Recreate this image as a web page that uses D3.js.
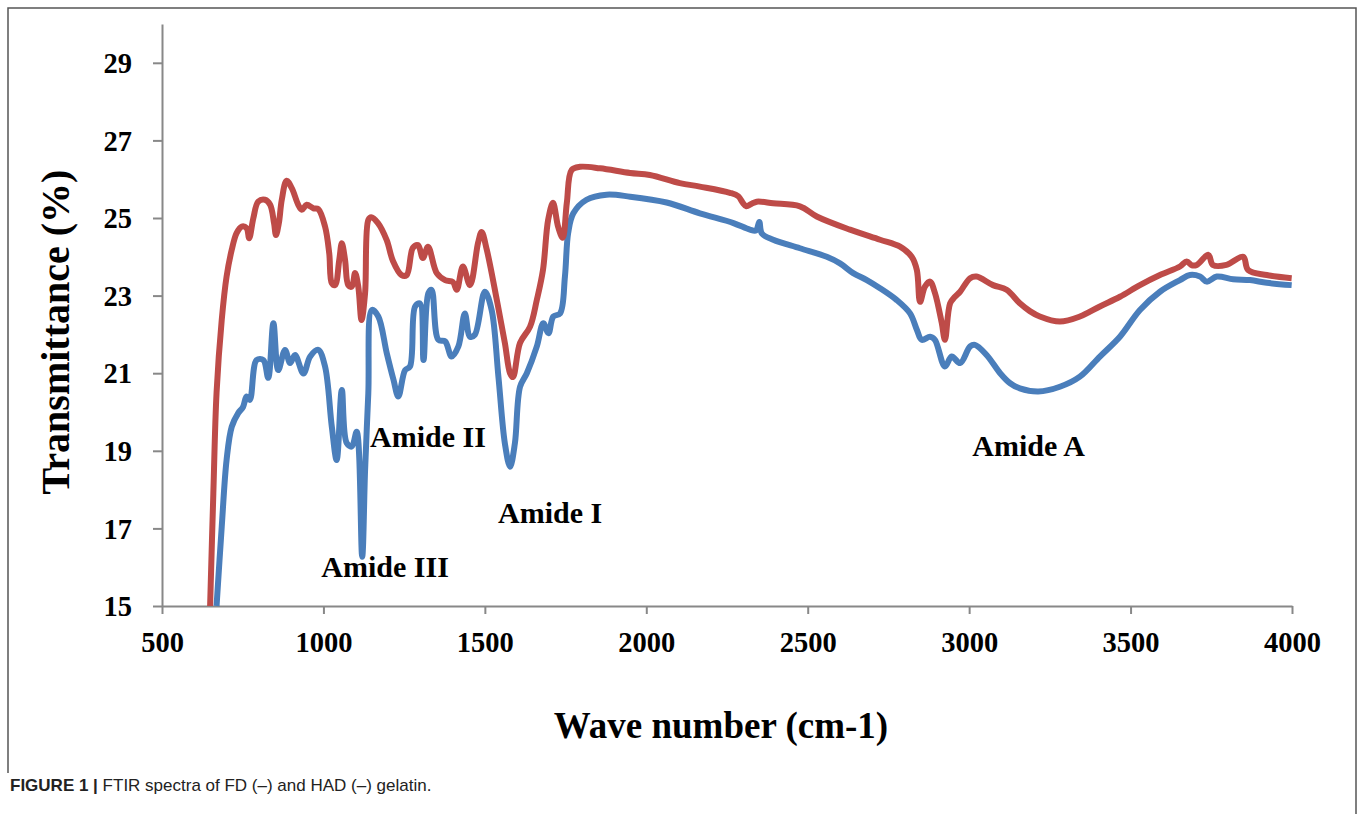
<!DOCTYPE html>
<html>
<head>
<meta charset="utf-8">
<script src="https://cdn.jsdelivr.net/npm/d3@7"></script>
<style>
  html, body { margin: 0; padding: 0; background: #fff; }
  svg { display: block; }
</style>
</head>
<body>
<svg id="chart" width="1358" height="814"></svg>
<script>
// ---- data ----
const xTicks = [500, 1000, 1500, 2000, 2500, 3000, 3500, 4000];
const yTicks = [15, 17, 19, 21, 23, 25, 27, 29];

const fdWave = [649, 659, 669, 685, 700, 716, 731, 747, 762, 770, 783, 798, 819, 835, 847, 853, 862, 871, 886, 902, 922, 933, 948, 969, 984, 1005, 1018, 1026, 1036, 1049, 1057, 1067, 1077, 1088, 1098, 1108, 1118, 1129, 1139, 1148, 1169, 1196, 1215, 1242, 1258, 1277, 1293, 1308, 1324, 1351, 1377, 1401, 1413, 1432, 1454, 1479, 1490, 1506, 1537, 1562, 1578, 1587, 1609, 1640, 1661, 1680, 1696, 1711, 1727, 1741, 1754, 1769, 1795, 1857, 1950, 2011, 2104, 2166, 2259, 2285, 2299, 2310, 2325, 2342, 2393, 2476, 2528, 2631, 2724, 2786, 2822, 2838, 2848, 2863, 2879, 2894, 2915, 2925, 2941, 2956, 2972, 3003, 3023, 3074, 3116, 3157, 3188, 3219, 3281, 3343, 3405, 3467, 3529, 3591, 3653, 3674, 3690, 3705, 3741, 3755, 3797, 3849, 3864, 3922, 3999];
const fdT = [15.0, 17.9, 20.5, 22.37, 23.49, 24.18, 24.61, 24.78, 24.74, 24.48, 25.0, 25.42, 25.47, 25.34, 24.87, 24.56, 24.87, 25.47, 25.96, 25.77, 25.34, 25.21, 25.34, 25.25, 25.23, 24.78, 24.09, 23.32, 23.27, 23.92, 24.35, 23.92, 23.27, 23.23, 23.58, 23.23, 22.37, 23.06, 24.95, 25.02, 24.87, 24.43, 23.9, 23.53, 23.53, 24.23, 24.3, 23.97, 24.26, 23.58, 23.4, 23.35, 23.15, 23.75, 23.27, 24.36, 24.64, 24.18, 22.89, 21.78, 21.0, 20.9, 21.78, 22.2, 22.89, 23.66, 24.95, 25.39, 24.77, 24.49, 25.4, 26.24, 26.32, 26.28, 26.16, 26.11, 25.9, 25.81, 25.65, 25.56, 25.39, 25.3, 25.36, 25.42, 25.38, 25.3, 25.04, 24.7, 24.44, 24.26, 24.0, 23.66, 22.84, 23.23, 23.36, 23.07, 22.3, 21.86, 22.8, 22.97, 23.1, 23.45, 23.49, 23.27, 23.15, 22.8, 22.6, 22.46, 22.33, 22.46, 22.72, 22.97, 23.27, 23.53, 23.75, 23.88, 23.78, 23.79, 24.05, 23.79, 23.79, 24.0, 23.66, 23.53, 23.45];

const hadWave = [669, 685, 700, 716, 736, 751, 762, 772, 793, 814, 829, 845, 860, 881, 897, 912, 938, 959, 984, 1005, 1026, 1041, 1057, 1072, 1088, 1103, 1120, 1129, 1139, 1150, 1170, 1196, 1217, 1232, 1253, 1268, 1284, 1299, 1310, 1325, 1335, 1356, 1377, 1397, 1418, 1438, 1454, 1469, 1500, 1521, 1542, 1562, 1578, 1593, 1609, 1630, 1661, 1681, 1697, 1712, 1733, 1748, 1758, 1774, 1815, 1877, 1950, 2063, 2166, 2270, 2321, 2340, 2350, 2358, 2393, 2476, 2559, 2600, 2641, 2683, 2724, 2775, 2817, 2838, 2853, 2879, 2894, 2925, 2946, 2972, 3003, 3018, 3054, 3096, 3127, 3157, 3214, 3281, 3343, 3405, 3467, 3529, 3591, 3653, 3684, 3715, 3736, 3767, 3818, 3870, 3922, 3999];
const hadT = [15.0, 17.04, 18.76, 19.62, 19.97, 20.13, 20.4, 20.31, 21.34, 21.34, 20.88, 22.29, 21.08, 21.6, 21.26, 21.47, 20.99, 21.43, 21.6, 21.17, 19.62, 18.76, 20.57, 19.2, 19.11, 19.49, 16.27, 18.5, 20.48, 22.63, 22.46, 21.52, 20.83, 20.4, 21.08, 21.17, 22.72, 22.8, 21.34, 23.06, 23.15, 21.86, 21.82, 21.43, 21.69, 22.54, 21.94, 21.99, 23.1, 22.63, 20.91, 19.19, 18.59, 19.19, 20.65, 21.0, 21.69, 22.29, 22.03, 22.46, 22.54, 23.49, 24.61, 25.12, 25.47, 25.6, 25.55, 25.4, 25.12, 24.87, 24.7, 24.68, 24.9, 24.6, 24.44, 24.22, 24.0, 23.83, 23.58, 23.4, 23.19, 22.89, 22.54, 22.12, 21.86, 21.94, 21.86, 21.17, 21.43, 21.26, 21.69, 21.73, 21.47, 21.0, 20.74, 20.61, 20.53, 20.65, 20.91, 21.43, 21.94, 22.63, 23.1, 23.4, 23.53, 23.49, 23.36, 23.49, 23.42, 23.4, 23.33, 23.27];

const annotations = ["Amide III", "Amide II", "Amide I", "Amide A"];
const annotationAt = [[1191, 15.75], [1324, 19.1], [1702, 17.14], [3184, 18.87]];

// ---- drawing ----
const svg = d3.select("#chart");
const serif = "'Liberation Serif', 'Times New Roman', serif";
const sans = "'Liberation Sans', Arial, Helvetica, sans-serif";

// frame
svg.append("path")
  .attr("d", "M8,773 L8,8 L1356,8 L1356,814")
  .attr("fill", "none").attr("stroke", "#555").attr("stroke-width", 1.5);

const x = d3.scaleLinear().domain([500, 4000]).range([162, 1292]);
const y = d3.scaleLinear().domain([15, 30]).range([606, 24]);

const axisColor = "#888";

const gx = svg.append("g").attr("transform", "translate(0,606)")
  .call(d3.axisBottom(x).tickValues(xTicks).tickSize(8).tickSizeOuter(0).tickFormat(d3.format("d")));
const gy = svg.append("g").attr("transform", "translate(162,0)")
  .call(d3.axisLeft(y).tickValues(yTicks).tickSize(9).tickSizeOuter(0).tickFormat(d3.format("d")));

[gx, gy].forEach(g => {
  g.select(".domain").attr("stroke", axisColor).attr("stroke-width", 2);
  g.selectAll(".tick line").attr("stroke", axisColor).attr("stroke-width", 2);
  g.selectAll(".tick text").attr("fill", "#000").style("font-family", serif)
    .style("font-size", "28.5px").style("font-weight", "bold");
});
gx.selectAll(".tick text").attr("dy", null).attr("y", 46);
gy.selectAll(".tick text").attr("x", -30).attr("dy", "0.34em");

// lines
const line = d3.line().x(d => x(d[0])).y(d => y(d[1])).curve(d3.curveCatmullRom.alpha(0.5));
const hadData = hadWave.map((w, i) => [w, hadT[i]]);
const fdData = fdWave.map((w, i) => [w, fdT[i]]);

svg.append("path").datum(hadData).attr("d", line)
  .attr("fill", "none").attr("stroke", "#4a7ebb").attr("stroke-width", 6)
  .attr("stroke-linejoin", "round").attr("stroke-linecap", "butt");
svg.append("path").datum(fdData).attr("d", line)
  .attr("fill", "none").attr("stroke", "#be4b48").attr("stroke-width", 6)
  .attr("stroke-linejoin", "round").attr("stroke-linecap", "butt");

// annotations
annotations.forEach((t, i) => {
  svg.append("text").attr("x", x(annotationAt[i][0])).attr("y", y(annotationAt[i][1]))
    .attr("text-anchor", "middle").style("font-family", serif).style("font-size", "30px")
    .style("font-weight", "bold").attr("fill", "#000").text(t);
});

// axis titles
svg.append("text").attr("x", 721).attr("y", 738).attr("text-anchor", "middle")
  .style("font-family", serif).style("font-size", "37px").style("font-weight", "bold")
  .text("Wave number (cm-1)");
svg.append("text").attr("transform", "translate(69,332) rotate(-90)").attr("text-anchor", "middle")
  .style("font-family", serif).style("font-size", "40px").style("font-weight", "bold")
  .text("Transmittance (%)");

// caption
const cap = svg.append("text").attr("x", 10).attr("y", 791)
  .style("font-family", sans).style("font-size", "17px").attr("fill", "#222");
cap.append("tspan").style("font-weight", "bold").text("FIGURE 1 | ");
cap.append("tspan").text("FTIR spectra of FD (\u2013) and HAD (\u2013) gelatin.");
</script>
</body>
</html>
